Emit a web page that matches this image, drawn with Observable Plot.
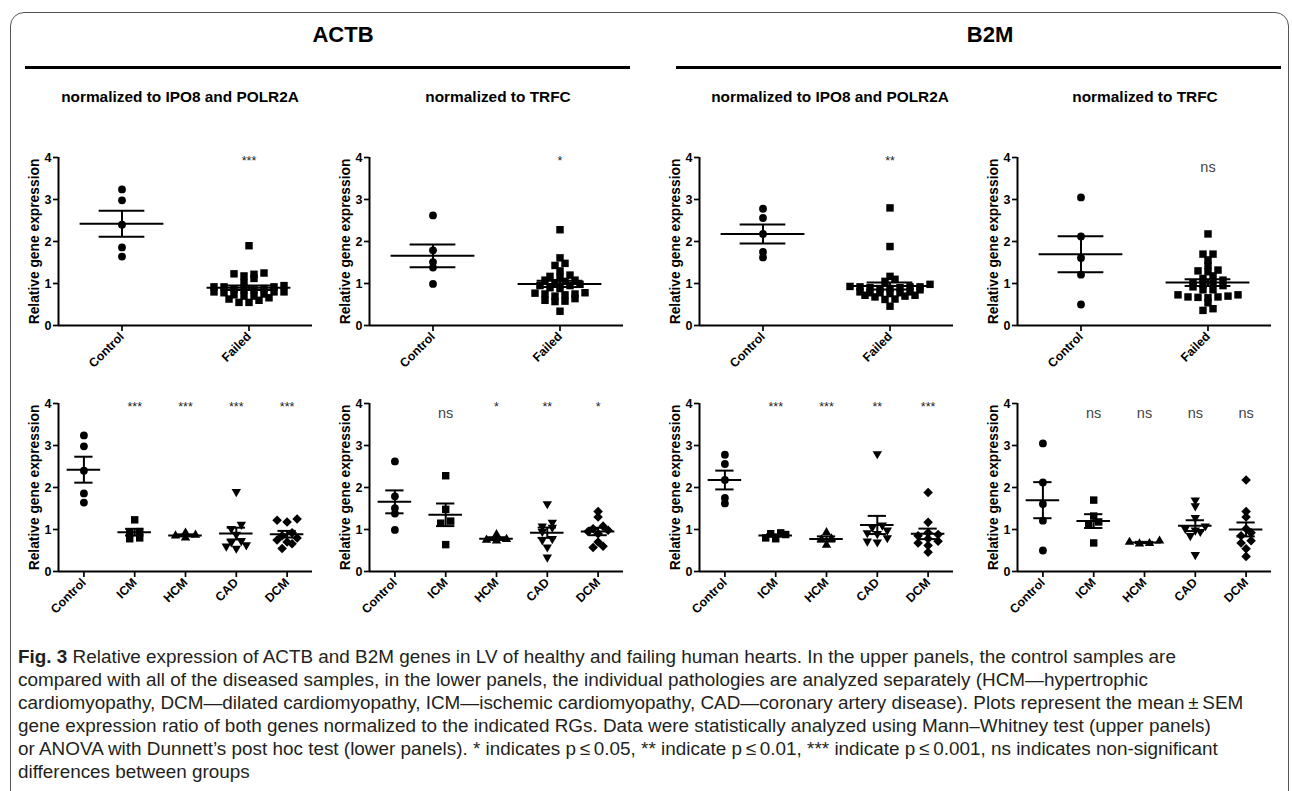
<!DOCTYPE html>
<html>
<head>
<meta charset="utf-8">
<script src="https://cdn.jsdelivr.net/npm/d3@7"></script>
<script src="https://cdn.jsdelivr.net/npm/@observablehq/plot@0.6"></script>
<style>
  html, body { margin: 0; padding: 0; background: #fff; }
  body { font-family: "Liberation Sans", Arial, sans-serif; color: #000; }
  #fig { position: relative; width: 1292px; height: 791px; overflow: hidden; }
  .box { position: absolute; left: 10px; top: 12px; width: 1279px; height: 900px; border: 1.5px solid #555; border-radius: 14px; box-sizing: border-box; }
  .title { position: absolute; font-weight: bold; font-size: 22px; line-height: 22px; transform: translate(-50%, -50%); white-space: nowrap; }
  .hrule { position: absolute; height: 3px; background: #000; }
  .sub { position: absolute; font-weight: bold; font-size: 15.4px; line-height: 16px; transform: translate(-50%, -50%); white-space: nowrap; }
  .panel { position: absolute; overflow: visible; }
  .caption { position: absolute; left: 18px; top: 645px; font-size: 18.9px; line-height: 23px; color: #231f20; white-space: nowrap; }
  .caption div { white-space: nowrap; }
</style>
</head>
<body>
<div id="fig"></div>
<script>
// ---------------- data ----------------
const genes = ["ACTB", "B2M"];
const normalizations = ["normalized to IPO8 and POLR2A", "normalized to TRFC"];
const topCategories = ["Control", "Failed"];
const bottomCategories = ["Control", "ICM", "HCM", "CAD", "DCM"];

// ACTB normalized to IPO8 and POLR2A
const actbIpoControl = [3.24, 2.98, 2.40, 1.86, 1.64];
const actbIpoICM = [1.23, 0.95, 0.92, 0.80, 0.78];
const actbIpoHCM = [0.92, 0.87, 0.85, 0.80];
const actbIpoCAD = [1.90, 1.12, 1.02, 0.88, 0.73, 0.70, 0.63, 0.60, 0.55];
const actbIpoDCM = [1.25, 1.22, 1.18, 0.92, 0.85, 0.80, 0.75, 0.70, 0.66, 0.55];

// ACTB normalized to TRFC
const actbTrfcControl = [2.62, 1.79, 1.51, 1.38, 0.99];
const actbTrfcICM = [2.28, 1.48, 1.20, 1.15, 0.64];
const actbTrfcHCM = [0.88, 0.77, 0.75, 0.73];
const actbTrfcCAD = [1.61, 1.17, 1.08, 1.05, 0.95, 0.78, 0.75, 0.58, 0.34];
const actbTrfcDCM = [1.43, 1.30, 1.08, 1.02, 0.98, 0.95, 0.90, 0.70, 0.60, 0.57];

// B2M normalized to IPO8 and POLR2A
const b2mIpoControl = [2.78, 2.56, 2.18, 1.75, 1.62];
const b2mIpoICM = [0.92, 0.90, 0.88, 0.80, 0.78];
const b2mIpoHCM = [0.93, 0.78, 0.76, 0.63];
const b2mIpoCAD = [2.80, 1.10, 1.05, 0.98, 0.92, 0.90, 0.80, 0.72, 0.70];
const b2mIpoDCM = [1.88, 1.17, 0.92, 0.88, 0.85, 0.78, 0.72, 0.68, 0.62, 0.46];

// B2M normalized to TRFC
const b2mTrfcControl = [3.05, 2.12, 1.61, 1.21, 0.50];
const b2mTrfcICM = [1.70, 1.32, 1.18, 1.12, 0.68];
const b2mTrfcHCM = [0.73, 0.70, 0.67, 0.66];
const b2mTrfcCAD = [1.70, 1.56, 1.28, 1.08, 1.02, 0.98, 0.95, 0.85, 0.40];
const b2mTrfcDCM = [2.18, 1.43, 1.30, 1.02, 0.92, 0.85, 0.73, 0.68, 0.54, 0.36];

// significance labels (vs Control)
const topSignificance = [["***"], ["*"], ["**"], ["ns"]];
const bottomSignificance = [
  ["***", "***", "***", "***"],
  ["ns", "*", "**", "*"],
  ["***", "***", "**", "***"],
  ["ns", "ns", "ns", "ns"]
];

const captionLines = [
  "Relative expression of ACTB and B2M genes in LV of healthy and failing human hearts. In the upper panels, the control samples are",
  "compared with all of the diseased samples, in the lower panels, the individual pathologies are analyzed separately (HCM\u2014hypertrophic",
  "cardiomyopathy, DCM\u2014dilated cardiomyopathy, ICM\u2014ischemic cardiomyopathy, CAD\u2014coronary artery disease). Plots represent the mean\u2009\u00b1\u2009SEM",
  "gene expression ratio of both genes normalized to the indicated RGs. Data were statistically analyzed using Mann\u2013Whitney test (upper panels)",
  "or ANOVA with Dunnett\u2019s post hoc test (lower panels). * indicates p\u2009\u2264\u20090.05, ** indicate p\u2009\u2264\u20090.01, *** indicate p\u2009\u2264\u20090.001, ns indicates non-significant",
  "differences between groups"
];

// ---------------- layout ----------------
const FONT = '"Liberation Sans", Arial, Helvetica, sans-serif';
const PW = 254, PH = 168, ML = 62, MR = 10, MT = 8, MB = 56;
const colX = [58, 369, 699, 1017];
const rowY = [157, 403];

const triangleDown = {
  draw(context, size) {
    const s3 = Math.sqrt(3);
    const y = -Math.sqrt(size / (s3 * 3));
    context.moveTo(0, -y * 2);
    context.lineTo(-s3 * y, y);
    context.lineTo(s3 * y, y);
    context.closePath();
  }
};
const bottomSymbols = [
  {symbol: "circle", r: 3.9},
  {symbol: "square", r: 4.2},
  {symbol: "triangle", r: 3.5},
  {symbol: triangleDown, r: 3.5},
  {symbol: "diamond2", r: 4.3}
];
const topSymbols = [bottomSymbols[0], bottomSymbols[1]];

// GraphPad-like scatter arrangement: bin points into rows, center each row
function swarm(values, pxPerY, step, rowHeight) {
  const order = d3.range(values.length).sort((a, b) => d3.ascending(values[a], values[b]));
  const rows = [];
  for (const i of order) {
    const py = values[i] * pxPerY;
    const last = rows[rows.length - 1];
    if (last && py - last.start < rowHeight) last.items.push(i);
    else rows.push({start: py, items: [i]});
  }
  const off = new Array(values.length);
  for (const row of rows) {
    const k = row.items.length;
    const slots = d3.range(k).map(j => (j - (k - 1) / 2) * step);
    slots.sort((a, b) => Math.abs(a) - Math.abs(b) || a - b);
    row.items.forEach((idx, j) => off[idx] = slots[j]);
  }
  return off;
}

function makePanel(cats, groupValues, sigs, symbols, X, Y) {
  const n = cats.length;
  const pxPerX = PW / n, pxPerY = PH / 4;
  const stats = [];
  const dotMarks = [];
  groupValues.forEach((vals, i) => {
    const off = swarm(vals, pxPerY, 10, 5);
    const pts = vals.map((v, j) => ({x: i + off[j] / pxPerX, y: v}));
    dotMarks.push(Plot.dot(pts, {x: "x", y: "y", symbol: symbols[i].symbol, r: symbols[i].r, fill: "#000", stroke: "none"}));
    const m = d3.mean(vals), se = d3.deviation(vals) / Math.sqrt(vals.length);
    stats.push({i, mean: m, lo: m - se, hi: m + se});
  });
  const sigData = sigs.map((s, k) => ({i: k + 1, s}));
  const svg = Plot.plot({
    width: ML + PW + MR, height: MT + PH + MB,
    marginLeft: ML, marginRight: MR, marginTop: MT, marginBottom: MB,
    x: {domain: [-0.5, n - 0.5], axis: null},
    y: {domain: [0, 4], axis: null},
    style: {fontFamily: FONT, fontWeight: "bold", fontSize: "12.5px", color: "#000", background: "transparent", overflow: "visible"},
    marks: [
      Plot.axisY({ticks: [0, 1, 2, 3, 4], tickSize: 5, tickPadding: 2, tickFormat: d3.format("d"), strokeWidth: 1.7, fontSize: 12.5, fontWeight: "bold", label: null}),
      Plot.axisX({ticks: d3.range(n), tickFormat: i => cats[i], tickRotate: -45, tickSize: 6, tickPadding: 3, strokeWidth: 1.7, fontSize: 12.3, fontWeight: "bold", label: null}),
      Plot.ruleY([0], {strokeWidth: 2}),
      Plot.ruleX([-0.5], {y1: 0, y2: 4, strokeWidth: 2}),
      Plot.text(["Relative gene expression"], {frameAnchor: "left", textAnchor: "middle", rotate: -90, dx: -24, fontSize: 13.8, fontWeight: "bold"}),
      ...dotMarks,
      Plot.ruleY(stats, {y: "mean", x1: d => d.i - 0.33, x2: d => d.i + 0.33, strokeWidth: 2}),
      Plot.ruleY(stats, {y: "hi", x1: d => d.i - 0.18, x2: d => d.i + 0.18, strokeWidth: 2}),
      Plot.ruleY(stats, {y: "lo", x1: d => d.i - 0.18, x2: d => d.i + 0.18, strokeWidth: 2}),
      Plot.ruleX(stats, {x: "i", y1: "lo", y2: "hi", strokeWidth: 2}),
      Plot.text(sigData.filter(d => d.s !== "ns"), {x: "i", y: 3.92, text: "s", fontSize: 12.5, fontWeight: "normal", fill: "#222"}),
      Plot.text(sigData.filter(d => d.s === "ns"), {x: "i", y: 3.76, text: "s", fontSize: 14.5, fontWeight: "normal", fill: "#444"})
    ]
  });
  svg.classList.add("panel");
  svg.style.left = (X - ML) + "px";
  svg.style.top = (Y - MT) + "px";
  return svg;
}

// ---------------- build ----------------
const fig = document.getElementById("fig");
function addDiv(cls, text, styles) {
  const d = document.createElement("div");
  d.className = cls;
  if (text != null) d.textContent = text;
  Object.assign(d.style, styles);
  fig.appendChild(d);
  return d;
}
addDiv("box", null, {});
addDiv("title", genes[0], {left: "343px", top: "35px"});
addDiv("title", genes[1], {left: "990px", top: "35px"});
addDiv("hrule", null, {left: "25px", top: "66px", width: "605px"});
addDiv("hrule", null, {left: "676px", top: "66px", width: "605px"});
const subCenters = [180, 498, 830, 1145];
subCenters.forEach((cx, k) => addDiv("sub", normalizations[k % 2], {left: cx + "px", top: "97px"}));

const panelData = [
  [actbIpoControl, actbIpoICM, actbIpoHCM, actbIpoCAD, actbIpoDCM],
  [actbTrfcControl, actbTrfcICM, actbTrfcHCM, actbTrfcCAD, actbTrfcDCM],
  [b2mIpoControl, b2mIpoICM, b2mIpoHCM, b2mIpoCAD, b2mIpoDCM],
  [b2mTrfcControl, b2mTrfcICM, b2mTrfcHCM, b2mTrfcCAD, b2mTrfcDCM]
];
panelData.forEach((groups, k) => {
  const failed = [].concat(groups[1], groups[2], groups[3], groups[4]);
  fig.appendChild(makePanel(topCategories, [groups[0], failed], topSignificance[k], topSymbols, colX[k], rowY[0]));
  fig.appendChild(makePanel(bottomCategories, groups, bottomSignificance[k], bottomSymbols, colX[k], rowY[1]));
});

const cap = addDiv("caption", null, {});
captionLines.forEach((line, k) => {
  const d = document.createElement("div");
  if (k === 0) {
    const b = document.createElement("b");
    b.textContent = "Fig. 3";
    d.appendChild(b);
    d.appendChild(document.createTextNode("  " + line));
  } else d.textContent = line;
  cap.appendChild(d);
});
</script>
</body>
</html>
